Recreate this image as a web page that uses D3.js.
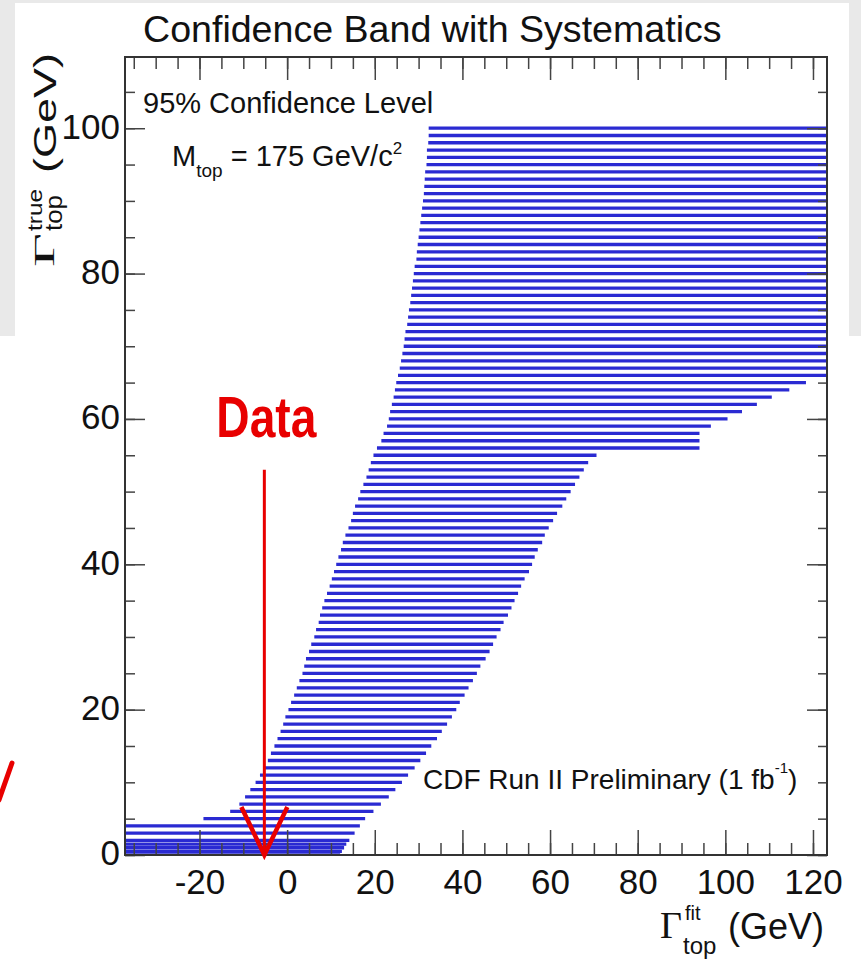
<html>
<head>
<meta charset="utf-8">
<script src="https://d3js.org/d3.v7.min.js"></script>
<style>
  body { margin: 0; background: #fff; }
  text { font-family: "Liberation Sans", Arial, sans-serif; fill: #111; }
</style>
</head>
<body>
<svg id="chart" width="861" height="962"></svg>
<script>
// band rows: Gamma_true value of each row, and the fit interval [lo, hi]
var rowTrue = [0, 0.5, 1, 1.5, 2, 3, 4,
  5, 6, 7, 8, 9, 10, 11, 12, 13, 14, 15, 16, 17, 18, 19, 20,
  21, 22, 23, 24, 25, 26, 27, 28, 29, 30, 31, 32, 33, 34, 35, 36, 37, 38, 39, 40,
  41, 42, 43, 44, 45, 46, 47, 48, 49, 50, 51, 52, 53, 54, 55, 56, 57, 58, 59, 60,
  61, 62, 63, 64, 65, 66, 67, 68, 69, 70, 71, 72, 73, 74, 75, 76, 77, 78, 79, 80,
  81, 82, 83, 84, 85, 86, 87, 88, 89, 90, 91, 92, 93, 94, 95, 96, 97, 98, 99, 100];
var rowLo = [-37, -37, -37, -37, -37, -37, -37,
  -19.1, -13.0, -10.9, -9.6, -8.4, -7.2, -6.2, -5.1, -4.4, -3.7, -2.9, -2.2, -1.5, -0.9, -0.4, 0.3,
  0.9, 1.6, 2.2, 2.8, 3.5, 3.9, 4.3, 5.0, 5.5, 6.2, 6.6, 7.2, 7.5, 8.0, 8.5, 9.1, 9.7, 10.2, 10.7, 11.2,
  11.7, 12.3, 12.7, 13.3, 14.0, 14.6, 15.0, 15.5, 16.2, 16.7, 17.4, 18.1, 18.6, 19.1, 19.7, 20.5, 21.5, 22.0, 22.8, 23.2,
  23.5, 23.9, 24.3, 24.6, 24.9, 25.3, 25.7, 26.0, 26.3, 26.6, 26.8, 27.0, 27.4, 27.6, 27.8, 28.1, 28.3, 28.5, 28.7, 28.9,
  29.1, 29.5, 29.6, 29.8, 30.0, 30.2, 30.4, 30.6, 30.8, 31.0, 31.2, 31.3, 31.4, 31.5, 31.8, 31.9, 31.9, 32.2, 32.3, 32.3];
var rowHi = [12.1, 12.5, 13.0, 13.5, 14.2, 15.4, 16.6,
  17.8, 19.7, 21.4, 23.2, 24.7, 26.2, 27.6, 29.1, 30.4, 31.7, 32.9, 34.2, 35.3, 36.5, 37.6, 38.6,
  39.4, 40.5, 41.4, 42.4, 43.3, 44.1, 45.3, 46.2, 47.0, 47.8, 48.7, 49.4, 50.4, 51.2, 51.9, 52.7, 53.4, 54.2, 55.2, 55.9,
  56.5, 57.2, 58.2, 58.8, 59.7, 60.7, 61.6, 62.8, 63.7, 64.7, 65.7, 66.7, 67.7, 68.7, 70.6, 94.1, 94.1, 94.1, 96.7, 100.5,
  103.8, 107.2, 110.6, 114.6, 118.4, 123.2, 123.2, 123.2, 123.2, 123.2, 123.2, 123.2, 123.2, 123.2, 123.2, 123.2, 123.2, 123.2, 123.2, 123.2,
  123.2, 123.2, 123.2, 123.2, 123.2, 123.2, 123.2, 123.2, 123.2, 123.2, 123.2, 123.2, 123.2, 123.2, 123.2, 123.2, 123.2, 123.2, 123.2, 123.2];

var xTicks = [-20, 0, 20, 40, 60, 80, 100, 120];
var yTicks = [0, 20, 40, 60, 80, 100];
var dataFit = -5.2;      // measured Gamma_fit (arrow)
var arrowTop = 53;

var svg = d3.select('#chart');

// slide background around the plot
svg.append('rect').attr('x', 0).attr('y', 0).attr('width', 861).attr('height', 336).attr('fill', '#e9e9e9');
svg.append('rect').attr('x', 15).attr('y', 3).attr('width', 834).attr('height', 333).attr('fill', '#fff');

var padL = 125, padR = 827, padT = 57, padB = 855;
var x = d3.scaleLinear().domain([-37, 123.2]).range([padL, padR]);
var y = d3.scaleLinear().domain([0, 109.8]).range([padB, padT]);

svg.append('clipPath').attr('id', 'frame')
  .append('rect').attr('x', padL).attr('y', padT).attr('width', padR - padL).attr('height', padB - padT);

var rows = rowTrue.map(function(t, i) { return {t: t, lo: rowLo[i], hi: rowHi[i]}; });

svg.append('g').attr('clip-path', 'url(#frame)')
  .selectAll('line')
  .data(rows)
  .enter()
  .append('line')
  .attr('x1', function(d) { return x(d.lo); })
  .attr('x2', function(d) { return x(d.hi); })
  .attr('y1', function(d) { return y(d.t); })
  .attr('y2', function(d) { return y(d.t); })
  .attr('stroke', '#2a2ad2')
  .attr('stroke-width', 3.3);

// axes, ROOT style ticks pointing inwards
var minorX = d3.range(-35, 124, 5);
var minorY = d3.range(0, 110, 5);
var plain = function(d) { return String(d); };

function styleAxis(g) {
  g.select('.domain').remove();
  g.selectAll('.tick line').attr('stroke', '#444').attr('stroke-width', 1.5);
}

svg.append('g').attr('transform', 'translate(0,' + padB + ')')
  .call(d3.axisBottom(x).tickValues(minorX).tickSize(-12).tickFormat(''))
  .call(styleAxis);
svg.append('g').attr('transform', 'translate(0,' + padB + ')')
  .call(d3.axisBottom(x).tickValues(xTicks).tickSize(-25).tickPadding(14).tickFormat(plain))
  .call(styleAxis)
  .selectAll('text').attr('font-size', 35).attr('fill', '#111')
  .style('font-family', '"Liberation Sans", Arial, sans-serif');

svg.append('g').attr('transform', 'translate(0,' + padT + ')')
  .call(d3.axisTop(x).tickValues(minorX).tickSize(-12).tickFormat(''))
  .call(styleAxis);
svg.append('g').attr('transform', 'translate(0,' + padT + ')')
  .call(d3.axisTop(x).tickValues(xTicks).tickSize(-23).tickFormat(''))
  .call(styleAxis);

svg.append('g').attr('transform', 'translate(' + padL + ',0)')
  .call(d3.axisLeft(y).tickValues(minorY).tickSize(-10).tickFormat(''))
  .call(styleAxis);
svg.append('g').attr('transform', 'translate(' + padL + ',0)')
  .call(d3.axisLeft(y).tickValues(yTicks).tickSize(-20).tickPadding(5).tickFormat(plain))
  .call(styleAxis)
  .selectAll('text').attr('font-size', 35).attr('fill', '#111').attr('dy', '0.28em')
  .style('font-family', '"Liberation Sans", Arial, sans-serif');

svg.append('g').attr('transform', 'translate(' + padR + ',0)')
  .call(d3.axisRight(y).tickValues(minorY).tickSize(-9).tickFormat(''))
  .call(styleAxis);
svg.append('g').attr('transform', 'translate(' + padR + ',0)')
  .call(d3.axisRight(y).tickValues(yTicks).tickSize(-20).tickFormat(''))
  .call(styleAxis);

svg.append('rect')
  .attr('x', padL).attr('y', padT).attr('width', padR - padL).attr('height', padB - padT)
  .attr('fill', 'none').attr('stroke', '#333').attr('stroke-width', 2);

// title
svg.append('text').attr('x', 143).attr('y', 42).attr('font-size', 37.6).text('Confidence Band with Systematics');

// labels inside the frame
svg.append('text').attr('x', 143).attr('y', 113).attr('font-size', 29).text('95% Confidence Level');

var mt = svg.append('text').attr('x', 172).attr('y', 166).attr('font-size', 29);
mt.append('tspan').text('M');
mt.append('tspan').attr('font-size', 19).attr('dy', 11).text('top');
mt.append('tspan').attr('dy', -11).text(' = 175 GeV/c');
mt.append('tspan').attr('font-size', 17).attr('dy', -12).text('2');

var cdf = svg.append('text').attr('x', 423).attr('y', 789).attr('font-size', 28);
cdf.append('tspan').text('CDF Run II Preliminary (1 fb');
cdf.append('tspan').attr('font-size', 15).attr('dy', -16).text('-1');
cdf.append('tspan').attr('dy', 16).text(')');

// y axis title (rotated)
var yl = svg.append('g').attr('transform', 'translate(54,267) rotate(-90)');
yl.append('text').attr('x', 0).attr('y', 0).attr('font-size', 30)
  .style('font-family', '"Liberation Serif", "Times New Roman", serif')
  .attr('textLength', 34).attr('lengthAdjust', 'spacingAndGlyphs').text('\u0393');
yl.append('text').attr('x', 36).attr('y', -12).attr('font-size', 21)
  .attr('textLength', 42).attr('lengthAdjust', 'spacingAndGlyphs').text('true');
yl.append('text').attr('x', 36).attr('y', 8).attr('font-size', 24)
  .attr('textLength', 36).attr('lengthAdjust', 'spacingAndGlyphs').text('top');
yl.append('text').attr('x', 94).attr('y', 2).attr('font-size', 32)
  .attr('textLength', 120).attr('lengthAdjust', 'spacingAndGlyphs').text('(GeV)');

// x axis title
svg.append('text').attr('x', 660).attr('y', 938).attr('font-size', 38)
  .style('font-family', '"Liberation Serif", "Times New Roman", serif').text('\u0393');
svg.append('text').attr('x', 685).attr('y', 920).attr('font-size', 20).text('fit');
svg.append('text').attr('x', 683).attr('y', 954).attr('font-size', 24).text('top');
svg.append('text').attr('x', 728).attr('y', 939).attr('font-size', 36).text('(GeV)');

// data arrow
var ax = x(dataFit);
svg.append('line')
  .attr('x1', ax).attr('x2', ax).attr('y1', y(arrowTop)).attr('y2', y(0))
  .attr('stroke', '#e80000').attr('stroke-width', 3);
svg.append('path')
  .attr('d', 'M' + (ax - 23) + ',' + (y(0) - 48) + 'L' + ax + ',' + y(0) + 'L' + (ax + 23) + ',' + (y(0) - 48))
  .attr('fill', 'none').attr('stroke', '#e80000').attr('stroke-width', 4.5);
svg.append('text').attr('x', ax + 2).attr('y', 437).attr('text-anchor', 'middle')
  .attr('font-size', 58).attr('font-weight', 'bold')
  .style('fill', '#e80000')
  .attr('textLength', 100).attr('lengthAdjust', 'spacingAndGlyphs').text('Data');

// red slide mark at the left edge
svg.append('line').attr('x1', -1).attr('y1', 800).attr('x2', 12).attr('y2', 763)
  .attr('stroke', '#e80000').attr('stroke-width', 5).attr('stroke-linecap', 'round');
</script>
</body>
</html>
